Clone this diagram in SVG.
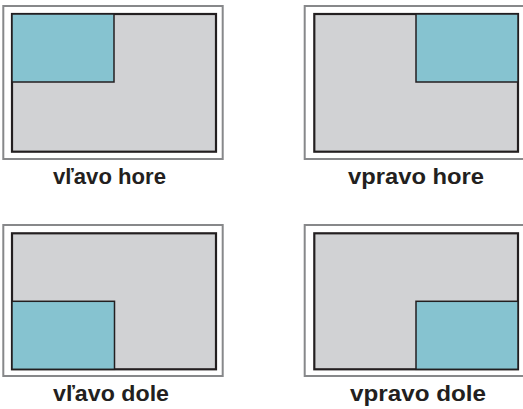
<svg xmlns="http://www.w3.org/2000/svg" width="523" height="409" viewBox="0 0 523 409">
<style>
.frame{fill:#ffffff;stroke:#87888a;stroke-width:2}
.screen{fill:#d1d2d4;stroke:#231f20;stroke-width:2.2}
.win{fill:#86c3d0;stroke:#231f20;stroke-width:1.5}
.lbl{font-family:"Liberation Sans",Arial,sans-serif;font-weight:bold;font-size:22px;fill:#231f20;text-anchor:middle}
</style>
<rect width="523" height="409" fill="#ffffff"/>
<g id="vlavo-hore">
<rect class="frame" x="3.3" y="6" width="219.4" height="153"/>
<rect class="screen" x="12" y="14" width="204" height="137.7"/>
<rect class="win" x="12" y="14" width="102" height="68"/>
<text class="lbl" x="109.5" y="184" textLength="113" lengthAdjust="spacingAndGlyphs">vľavo hore</text>
</g>
<g id="vpravo-hore">
<rect class="frame" x="304.7" y="6" width="219.4" height="153"/>
<rect class="screen" x="314.3" y="14" width="203.7" height="137.7"/>
<rect class="win" x="416" y="14" width="102" height="68"/>
<text class="lbl" x="416" y="184" textLength="136" lengthAdjust="spacingAndGlyphs">vpravo hore</text>
</g>
<g id="vlavo-dole">
<rect class="frame" x="3.3" y="225" width="219.4" height="151"/>
<rect class="screen" x="12" y="233.3" width="204" height="136"/>
<rect class="win" x="12" y="301.3" width="102.5" height="68"/>
<text class="lbl" x="111" y="400.7" textLength="116" lengthAdjust="spacingAndGlyphs">vľavo dole</text>
</g>
<g id="vpravo-dole">
<rect class="frame" x="304.7" y="225" width="219.4" height="151"/>
<rect class="screen" x="314.3" y="233.3" width="203.7" height="136"/>
<rect class="win" x="416" y="301.3" width="102" height="68"/>
<text class="lbl" x="418" y="400.7" textLength="136" lengthAdjust="spacingAndGlyphs">vpravo dole</text>
</g>
<g id="connectors"></g>
</svg>
